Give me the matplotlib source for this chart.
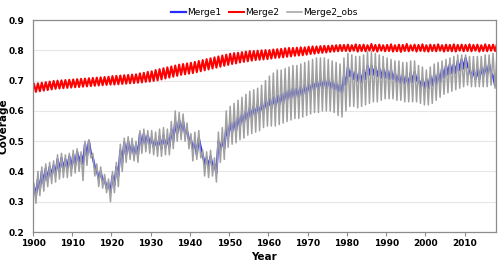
import matplotlib
matplotlib.use('Agg')
import matplotlib.pyplot as plt
import numpy as np

years = np.arange(1900, 2019)

# Merge1 (yearly trough / peak)
merge1_low = [0.32, 0.34, 0.36, 0.37, 0.385, 0.39, 0.40, 0.405, 0.41, 0.41,
              0.42, 0.43, 0.425, 0.45, 0.46, 0.415, 0.375, 0.37, 0.345, 0.33,
              0.355, 0.385, 0.43, 0.455, 0.46, 0.455, 0.455, 0.485, 0.49, 0.49,
              0.48, 0.475, 0.475, 0.48, 0.48, 0.50, 0.525, 0.53, 0.525, 0.505,
              0.475, 0.455, 0.48, 0.425, 0.415, 0.42, 0.395, 0.47, 0.475, 0.515,
              0.53, 0.535, 0.55, 0.56, 0.57, 0.58, 0.585, 0.59, 0.595, 0.605,
              0.61, 0.615, 0.62, 0.625, 0.635, 0.64, 0.645, 0.645, 0.65, 0.655,
              0.66, 0.67, 0.67, 0.675, 0.675, 0.675, 0.67, 0.665, 0.66, 0.685,
              0.715, 0.705, 0.70, 0.695, 0.705, 0.72, 0.72, 0.715, 0.71, 0.71,
              0.705, 0.705, 0.695, 0.69, 0.69, 0.685, 0.695, 0.70, 0.68, 0.675,
              0.675, 0.685, 0.69, 0.695, 0.71, 0.72, 0.725, 0.725, 0.735, 0.74,
              0.745, 0.71, 0.705, 0.705, 0.715, 0.72, 0.725, 0.685, 0.69]
merge1_high = [0.35, 0.375, 0.40, 0.41, 0.415, 0.42, 0.44, 0.445, 0.44, 0.45,
               0.455, 0.465, 0.455, 0.49, 0.50, 0.445, 0.405, 0.40, 0.375, 0.36,
               0.385, 0.415, 0.47, 0.495, 0.50, 0.49, 0.485, 0.525, 0.525, 0.52,
               0.51, 0.505, 0.515, 0.52, 0.51, 0.54, 0.565, 0.57, 0.565, 0.535,
               0.505, 0.495, 0.51, 0.455, 0.445, 0.45, 0.425, 0.50, 0.505, 0.545,
               0.56, 0.565, 0.58, 0.59, 0.60, 0.61, 0.615, 0.62, 0.625, 0.635,
               0.64, 0.645, 0.65, 0.655, 0.665, 0.67, 0.675, 0.675, 0.68, 0.685,
               0.69, 0.70, 0.70, 0.705, 0.705, 0.705, 0.70, 0.695, 0.69, 0.715,
               0.745, 0.735, 0.73, 0.725, 0.735, 0.75, 0.75, 0.745, 0.74, 0.74,
               0.735, 0.735, 0.725, 0.72, 0.72, 0.715, 0.725, 0.73, 0.71, 0.705,
               0.705, 0.715, 0.72, 0.725, 0.74, 0.75, 0.755, 0.755, 0.765, 0.77,
               0.775, 0.74, 0.735, 0.735, 0.745, 0.75, 0.755, 0.715, 0.72]

# Merge2
merge2_low = [0.663, 0.665, 0.667, 0.669, 0.671, 0.673, 0.674, 0.675, 0.676, 0.677,
              0.678, 0.679, 0.680, 0.681, 0.682, 0.683, 0.684, 0.685, 0.686, 0.687,
              0.687, 0.688, 0.689, 0.690, 0.691, 0.692, 0.693, 0.694, 0.696, 0.697,
              0.699, 0.701, 0.704, 0.707, 0.710, 0.713, 0.716, 0.719, 0.721, 0.723,
              0.725, 0.728, 0.731, 0.734, 0.737, 0.740, 0.743, 0.746, 0.749, 0.752,
              0.755, 0.757, 0.760, 0.762, 0.764, 0.766, 0.768, 0.769, 0.770, 0.771,
              0.773, 0.775, 0.776, 0.777, 0.779, 0.780, 0.782, 0.783, 0.784, 0.786,
              0.788, 0.789, 0.791, 0.792, 0.793, 0.795, 0.796, 0.797, 0.798, 0.798,
              0.797, 0.799, 0.796, 0.798, 0.797, 0.799, 0.798, 0.796, 0.799, 0.797,
              0.798, 0.796, 0.797, 0.795, 0.798, 0.797, 0.799, 0.796, 0.798, 0.797,
              0.796, 0.798, 0.797, 0.799, 0.796, 0.798, 0.797, 0.796, 0.799, 0.797,
              0.798, 0.797, 0.799, 0.796, 0.798, 0.797, 0.799, 0.798, 0.800]
merge2_high = [0.689, 0.691, 0.693, 0.695, 0.697, 0.699, 0.700, 0.701, 0.702, 0.703,
               0.704, 0.705, 0.706, 0.707, 0.708, 0.709, 0.710, 0.711, 0.712, 0.713,
               0.715, 0.716, 0.717, 0.718, 0.719, 0.720, 0.721, 0.724, 0.726, 0.729,
               0.731, 0.735, 0.738, 0.741, 0.744, 0.747, 0.750, 0.753, 0.755, 0.757,
               0.759, 0.762, 0.765, 0.768, 0.771, 0.774, 0.777, 0.780, 0.783, 0.786,
               0.789, 0.791, 0.792, 0.794, 0.796, 0.798, 0.798, 0.799, 0.800, 0.801,
               0.801, 0.803, 0.804, 0.805, 0.807, 0.808, 0.808, 0.809, 0.810, 0.810,
               0.812, 0.813, 0.813, 0.814, 0.815, 0.815, 0.816, 0.817, 0.818, 0.818,
               0.819, 0.817, 0.820, 0.818, 0.819, 0.817, 0.821, 0.818, 0.819, 0.817,
               0.818, 0.820, 0.817, 0.819, 0.818, 0.821, 0.817, 0.819, 0.818, 0.820,
               0.817, 0.819, 0.818, 0.820, 0.817, 0.819, 0.818, 0.820, 0.818, 0.819,
               0.818, 0.820, 0.818, 0.819, 0.817, 0.820, 0.818, 0.819, 0.821]

# Merge2_obs
obs_low = [0.295, 0.32, 0.335, 0.35, 0.36, 0.365, 0.375, 0.38, 0.38, 0.385,
           0.395, 0.40, 0.37, 0.42, 0.445, 0.385, 0.35, 0.345, 0.33, 0.30,
           0.33, 0.35, 0.40, 0.43, 0.44, 0.435, 0.43, 0.46, 0.465, 0.46,
           0.455, 0.45, 0.45, 0.455, 0.455, 0.475, 0.50, 0.505, 0.50, 0.475,
           0.435, 0.44, 0.445, 0.385, 0.38, 0.385, 0.365, 0.43, 0.44, 0.48,
           0.49, 0.495, 0.505, 0.51, 0.52, 0.525, 0.53, 0.535, 0.545, 0.55,
           0.55, 0.55, 0.555, 0.56, 0.565, 0.57, 0.575, 0.575, 0.58, 0.585,
           0.59, 0.595, 0.595, 0.60, 0.60, 0.60, 0.595, 0.585, 0.58, 0.60,
           0.615, 0.615, 0.61, 0.615, 0.62, 0.625, 0.63, 0.63, 0.635, 0.64,
           0.64, 0.64, 0.635, 0.635, 0.63, 0.63, 0.63, 0.63, 0.625, 0.62,
           0.62, 0.625, 0.635, 0.645, 0.655, 0.66, 0.665, 0.67, 0.675, 0.68,
           0.685, 0.68, 0.68, 0.68, 0.68, 0.68, 0.685, 0.675, 0.68]
obs_high = [0.36, 0.40, 0.415, 0.425, 0.43, 0.435, 0.455, 0.46, 0.455, 0.46,
            0.47, 0.475, 0.465, 0.50, 0.505, 0.46, 0.425, 0.415, 0.39, 0.375,
            0.40, 0.43, 0.49, 0.51, 0.515, 0.51, 0.50, 0.535, 0.54, 0.535,
            0.535, 0.53, 0.54, 0.545, 0.54, 0.565, 0.60, 0.595, 0.59, 0.56,
            0.525, 0.53, 0.535, 0.47, 0.465, 0.47, 0.445, 0.53, 0.545, 0.60,
            0.615, 0.625, 0.635, 0.645, 0.655, 0.665, 0.67, 0.675, 0.685, 0.70,
            0.715, 0.725, 0.735, 0.735, 0.74, 0.745, 0.75, 0.75, 0.755, 0.76,
            0.765, 0.77, 0.775, 0.775, 0.775, 0.77, 0.765, 0.76, 0.755, 0.775,
            0.79, 0.785, 0.78, 0.78, 0.785, 0.795, 0.795, 0.79, 0.785, 0.78,
            0.775, 0.77, 0.765, 0.765, 0.76, 0.76, 0.765, 0.765, 0.75, 0.745,
            0.735, 0.745, 0.755, 0.76, 0.765, 0.77, 0.775, 0.78, 0.785, 0.785,
            0.785, 0.78, 0.78, 0.78, 0.78, 0.785, 0.785, 0.79, 0.785]


def zigzag(high, low):
    # peak early in the year, trough in the second half
    t = np.column_stack([years + 0.25, years + 0.75]).ravel()
    v = np.column_stack([high, low]).ravel()
    return t, v


fig = plt.figure(figsize=(5, 2.61), dpi=100)
ax = fig.add_axes([0.066, 0.111, 0.926, 0.812])

t, v = zigzag(merge1_high, merge1_low)
ax.plot(t, v, color='#2b2bff', lw=1.6, label='Merge1')
t, v = zigzag(merge2_high, merge2_low)
ax.plot(t, v, color='#ff0000', lw=1.5, label='Merge2')
t, v = zigzag(obs_high, obs_low)
ax.plot(t, v, color='#a0a0a0', lw=1.1, label='Merge2_obs')

ax.set_xlim(1900, 2018)
ax.set_ylim(0.2, 0.9)
ax.set_xticks(np.arange(1900, 2011, 10))
ax.set_yticks(np.arange(0.2, 0.91, 0.1))
ax.set_yticklabels(['%.1f' % y for y in np.arange(0.2, 0.91, 0.1)])
ax.grid(axis='y', color='#e6e6e6', lw=0.8)
ax.set_axisbelow(True)
for s in ax.spines.values():
    s.set_color('#8c8c8c')
    s.set_linewidth(0.9)
ax.tick_params(axis='x', length=3, width=0.8, color='#8c8c8c', labelsize=6.5, pad=2)
ax.tick_params(axis='y', length=0, labelsize=6.5, pad=6)
for lab in ax.get_xticklabels() + ax.get_yticklabels():
    lab.set_fontweight('bold')

ax.set_xlabel('Year', fontsize=7.5, fontweight='bold', labelpad=3)
ax.set_ylabel('Coverage', fontsize=7.5, fontweight='bold')
ax.yaxis.set_label_coords(-0.052, 0.5)

ax.legend(loc='lower center', bbox_to_anchor=(0.5, 1.01), ncol=3, frameon=False,
          fontsize=6.5, handlelength=1.6, handletextpad=0.15, columnspacing=0.9,
          borderaxespad=0.0, borderpad=0.1)

fig.savefig('out.png', dpi=100)
